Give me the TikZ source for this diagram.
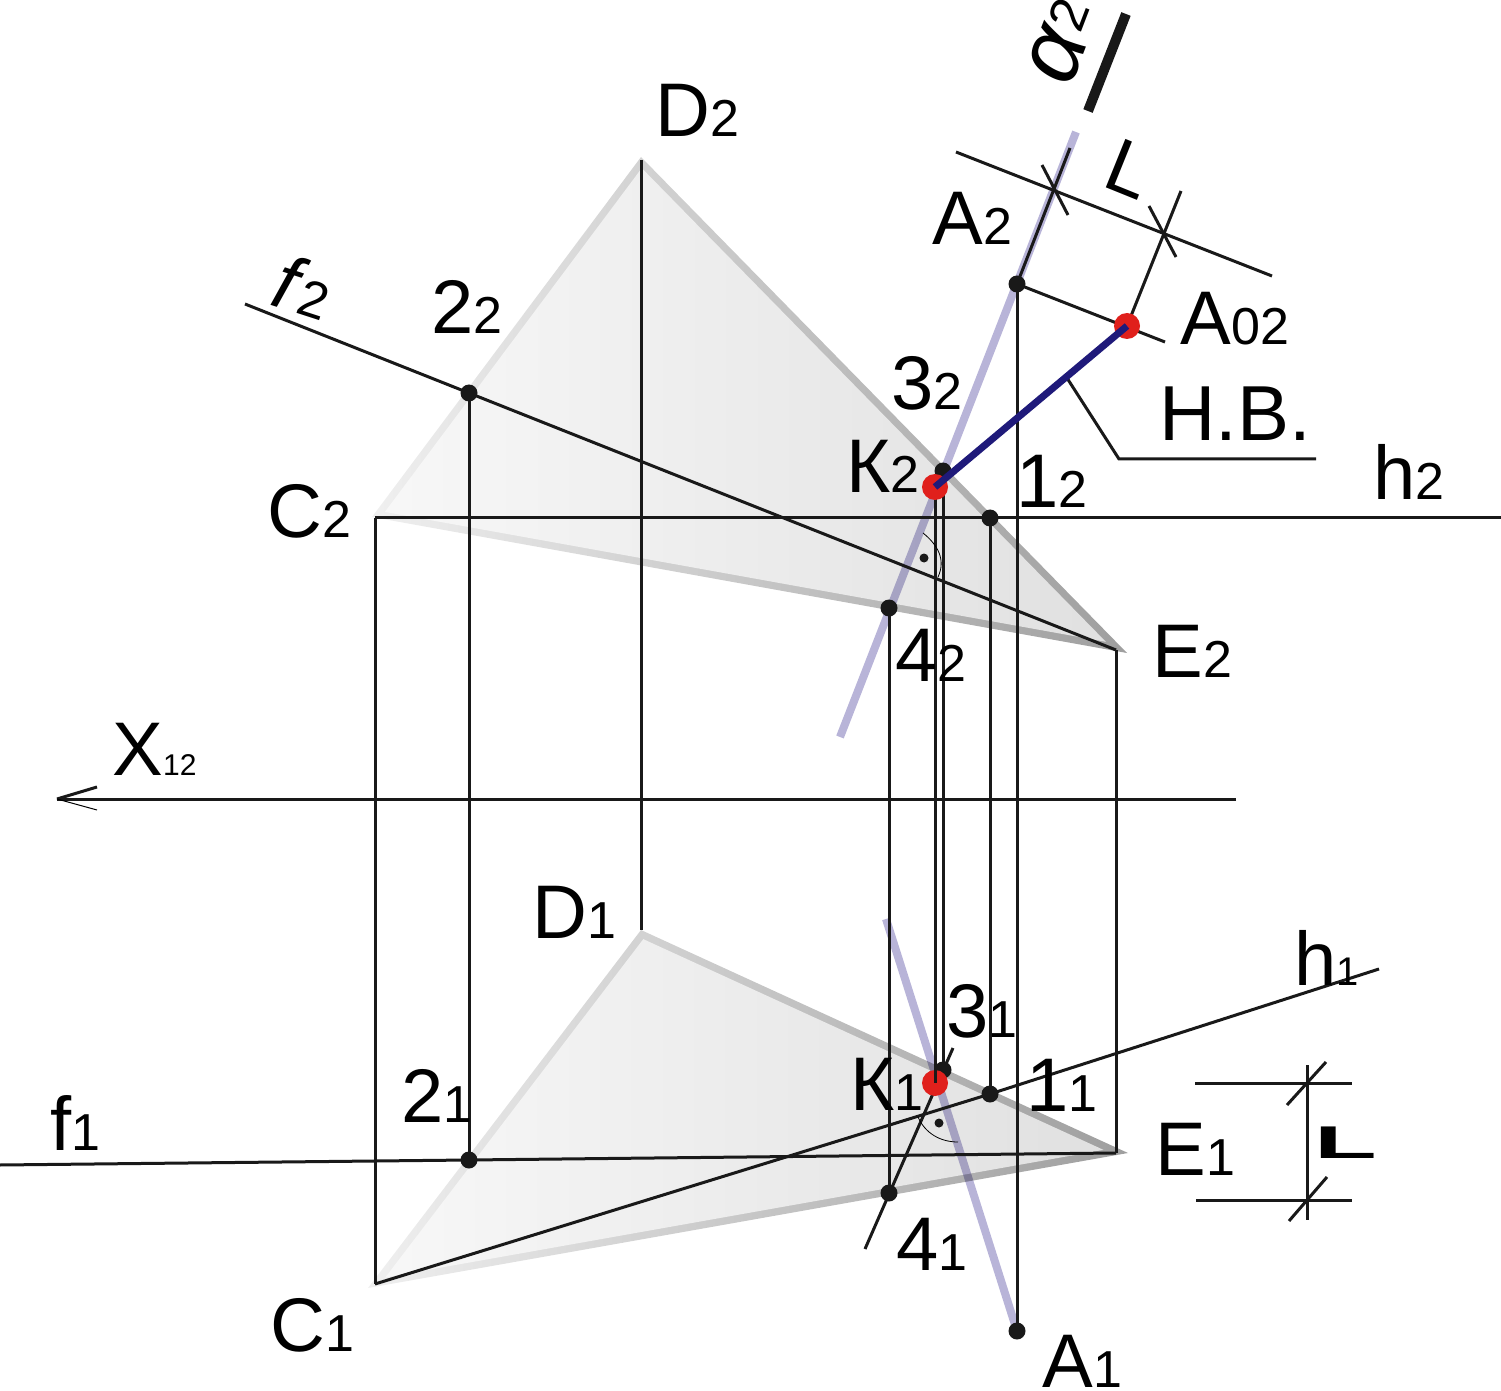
\documentclass[tikz,border=0pt]{standalone}
\usepackage{fontspec}
\setmainfont{Liberation Sans}
\usetikzlibrary{calc}
\definecolor{planeline}{HTML}{B8B4D8}
\definecolor{truelen}{HTML}{1F1A7A}
\definecolor{keypoint}{HTML}{E0201C}
\newcommand{\idx}[1]{{\fontsize{26}{26}\selectfont #1}}
\newcommand{\idxs}[1]{{\fontsize{15}{15}\selectfont #1}}
\tikzset{
  lbl/.style={anchor=base west,inner sep=0pt,font=\fontsize{38}{38}\selectfont},
  thinline/.style={line width=1.5pt,black!90},
  edgeshade/.style={left color=black!6,middle color=black!35,right color=black!38},
  faceshade/.style={left color=black!3,right color=black!12},
  traceline/.style={line width=4pt,planeline},
  dotp/.style={fill=black!90},
  dotk/.style={fill=keypoint},
}
\begin{document}
\begin{tikzpicture}[x=0.5pt,y=-0.5pt]
\useasboundingbox (0,0) rectangle (1501,1391);
%Points
\coordinate (C2) at (372,517);
\coordinate (D2) at (641,157);
\coordinate (E2) at (1127,653);
\coordinate (I2) at (657.6,404.5);
\coordinate (C1) at (368,1288);
\coordinate (D1) at (641,930);
\coordinate (E1) at (1128,1153);
\coordinate (I1) at (682.6,1096.2);
\coordinate (P22) at (469,393);
\coordinate (P21) at (469,1160);
\coordinate (P42) at (889,608);
\coordinate (P41) at (889,1193);
\coordinate (P32) at (943,471);
\coordinate (P31) at (943,1070);
\coordinate (P12) at (990,518);
\coordinate (P11) at (990,1094);
\coordinate (A2) at (1017,284);
\coordinate (A1) at (1017,1331);
\coordinate (K2) at (935,487);
\coordinate (K1) at (935,1083);
\coordinate (A02) at (1127,326);
%Planes
\shade[edgeshade] (C2) -- (D2) -- (E2) -- cycle;
\shade[faceshade] ($(I2)!0.955!(C2)$) -- ($(I2)!0.955!(D2)$) -- ($(I2)!0.955!(E2)$) -- cycle;
\shade[edgeshade] (C1) -- (D1) -- (E1) -- cycle;
\shade[faceshade] ($(I1)!0.945!(C1)$) -- ($(I1)!0.945!(D1)$) -- ($(I1)!0.945!(E1)$) -- cycle;
%Traces
\begin{scope}[blend mode=multiply]
\draw[traceline] (840,737) -- (1076,132);
\draw[traceline] (886,919) -- (A1);
\end{scope}
%Lines
\draw[thinline] (375,518) -- (1501,518);
\draw[thinline] (245,304) -- (P22) -- (1116,650);
\draw[thinline] (375,518) -- (375,1284);
\draw[thinline] (P22) -- (P21);
\draw[thinline] (641,160) -- (641,930);
\draw[thinline] (P42) -- (P41);
\draw[thinline] (K2) -- (K1);
\draw[thinline] (P32) -- (P31);
\draw[thinline] (P12) -- (P11);
\draw[thinline] (A2) -- (A1);
\draw[thinline] (1116,650) -- (1116,1153);
\draw[thinline] (0,1165) -- (P21) -- (1116,1153);
\draw[thinline] (375,1284) -- (P11) -- (1379,969);
\draw[thinline] (1236,799) -- (57,799);
\draw[thinline] (57,799) -- (97,787);
\draw[line width=0.5pt] (57,799) -- (97,810);
\draw[thinline] (953,1048) -- (865,1249);
%Dimension L
\draw[thinline] (A2) -- (1070,148);
\draw[thinline] (956,152) -- (1272,276);
\draw[thinline] (1042,165) -- (1068,215);
\draw[thinline] (1149,206) -- (1176,257);
\draw[thinline] (A2) -- (1165,342);
\draw[thinline] (A02) -- (1181,191);
\draw[thinline] (1067,378) -- (1119,459) -- (1316,459);
\draw[thinline] (1195,1083) -- (1352,1083);
\draw[thinline] (1196,1200) -- (1352,1200);
\draw[thinline] (1307,1065) -- (1307,1220);
\draw[thinline] (1287,1105) -- (1326,1062);
\draw[thinline] (1289,1221) -- (1327,1177);
\draw[line width=5pt,black!90] (1126,14) -- (1088,111);
%Right angles
\draw[line width=0.4pt] (923,533) .. controls (938,545) and (946,560) .. (938,577);
\draw[line width=0.4pt] (918,1117) .. controls (925,1133) and (940,1142) .. (958,1142);
\fill[dotp] (924,558) circle (4.5);
\fill[dotp] (939,1123) circle (4.5);
%Dots
\fill[dotp] (P22) circle (8.5);
\fill[dotp] (P21) circle (8.5);
\fill[dotp] (P42) circle (8.5);
\fill[dotp] (P41) circle (8.5);
\fill[dotp] (P32) circle (8.5);
\fill[dotp] (P31) circle (8.5);
\fill[dotp] (P12) circle (8.5);
\fill[dotp] (P11) circle (8.5);
\fill[dotp] (A2) circle (8.5);
\fill[dotp] (A1) circle (8.5);
\fill[dotk] (K2) circle (13);
\fill[dotk] (K1) circle (13);
\fill[dotk] (A02) circle (13);
\draw[thinline] (935,1050) -- (K1);
\draw[line width=3.5pt,truelen] (K2) -- (A02);
%Text
\node[lbl] (tD2) at (655,137) {D\idx{2}};
\node[lbl] (tA2) at (932,245) {A\idx{2}};
\node[lbl] (t22) at (431,334) {2\idx{2}};
\node[lbl,rotate=-18] (tf2) at (268,304) {\textit{f}\idx{2}};
\node[lbl] (t32) at (891,410) {3\idx{2}};
\node[lbl] (tK2) at (846,493) {К\idx{2}};
\node[lbl] (t12) at (1016,508) {1\idx{2}};
\node[lbl] (tC2) at (267,538) {C\idx{2}};
\node[lbl] (th2) at (1373,500) {h\idx{2}};
\node[lbl] (tA02) at (1180,345) {A\idx{02}};
\node[lbl,font=\fontsize{39}{39}\selectfont] (tHB) at (1159,441) {Н.В.};
\node[lbl] (t42) at (895,681) {4\idx{2}};
\node[lbl] (tE2) at (1152,677) {E\idx{2}};
\node[lbl] (tX) at (112,775) {X\idxs{12}};
\node[lbl] (tD1) at (532,938) {D\idx{1}};
\node[lbl] (th1) at (1294,985) {h{\fontsize{20}{20}\selectfont 1}};
\node[lbl] (t31) at (946,1037) {3\idx{1}};
\node[lbl] (tK1) at (850,1110) {К\idx{1}};
\node[lbl] (t11) at (1026,1111) {1\idx{1}};
\node[lbl] (t21) at (401,1122) {2\idx{1}};
\node[lbl] (tf1) at (50,1150) {f\idx{1}};
\node[lbl] (tE1) at (1155,1175) {E\idx{1}};
\node[lbl] (t41) at (896,1270) {4\idx{1}};
\node[lbl] (tC1) at (270,1351) {C\idx{1}};
\node[lbl] (tA1) at (1042,1387) {A\idx{1}};
\node[lbl,rotate=-22] (tL) at (1100,185) {L};
\node[lbl,font=\bfseries\fontsize{27}{27}\selectfont,xscale=1.9,yscale=.85] (tLb) at (1314,1158) {L};
\node[lbl,rotate=69,font=\fontsize{46}{46}\selectfont] (talpha) at (1070,89) {\textit{α}\raisebox{5pt}{\idx{2}}};
\end{tikzpicture}
\end{document}
